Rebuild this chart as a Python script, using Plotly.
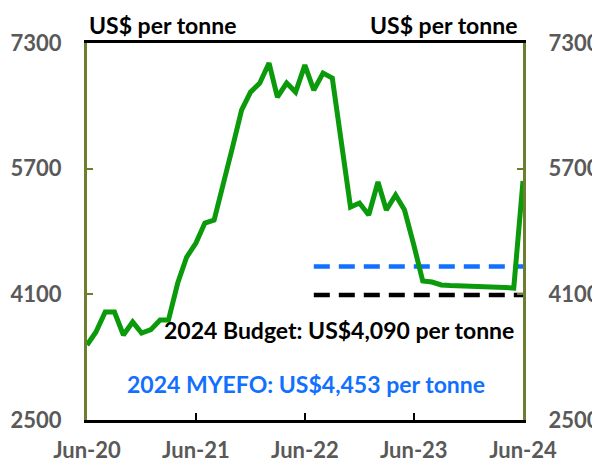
import plotly.graph_objects as go
import pandas as pd

months = pd.date_range("2020-06-01", "2024-06-01", freq="MS")
price = [3455, 3620, 3875, 3875, 3582, 3748, 3607, 3650, 3773, 3773,
         4244, 4575, 4753, 5008, 5046, 5492, 5963, 6446, 6675, 6790,
         7045, 6612, 6790, 6675, 7019, 6700, 6917, 6854, 6064, 5211,
         5262, 5110, 5530, 5173, 5364, 5173, 4729, 4270, 4257, 4219,
         4212, 4205, 4200, 4197, 4193, 4190, 4186, 4180, 5542]

assump_x = ["2022-07-01", "2024-06-01"]
budget = [4090, 4090]
myefo = [4453, 4453]

tick_vals = ["2020-06-01", "2021-06-01", "2022-06-01", "2023-06-01", "2024-06-01"]
tick_text = ["Jun-20", "Jun-21", "Jun-22", "Jun-23", "Jun-24"]
y_ticks = [2500, 4100, 5700, 7300]

GREEN = "#0b9a0b"
BLUE = "#1170ff"
OLIVE = "#6b7f2e"
GRAY = "#595959"
FONT = "Lato"

fig = go.Figure()
fig.add_trace(go.Scatter(x=assump_x, y=myefo, mode="lines",
                         line=dict(color=BLUE, width=4.5, dash="16px,9px"),
                         hoverinfo="skip", showlegend=False))
fig.add_trace(go.Scatter(x=assump_x, y=budget, mode="lines",
                         line=dict(color="black", width=4.5, dash="16px,9px"),
                         hoverinfo="skip", showlegend=False))
fig.add_trace(go.Scatter(x=months, y=price, mode="lines",
                         line=dict(color=GREEN, width=5),
                         showlegend=False))
fig.add_trace(go.Scatter(x=months, y=price, mode="lines", yaxis="y2",
                         line=dict(width=0), opacity=0,
                         hoverinfo="skip", showlegend=False))

fig.update_layout(
    width=592, height=454,
    margin=dict(l=79, r=77, t=35, b=42, autoexpand=False),
    paper_bgcolor="white", plot_bgcolor="white",
    font=dict(family=FONT, size=20, color="black"),
    xaxis=dict(
        range=["2020-06-01", "2024-06-01"],
        tickvals=tick_vals, ticktext=tick_text, automargin=False,
        tickfont=dict(family=FONT, size=22, color=GRAY, weight="bold"),
        showline=True, linecolor="black", linewidth=3, mirror=True,
        ticks="inside", ticklen=7, tickwidth=2, tickcolor="black",
        ticklabelstandoff=9,
        showgrid=False, zeroline=False,
    ),
    yaxis=dict(
        range=[2500, 7300], tickvals=y_ticks, automargin=False,
        tickfont=dict(family=FONT, size=22, color=GRAY, weight="bold"),
        showline=True, linecolor=OLIVE, linewidth=3,
        ticks="inside", ticklen=6, tickwidth=2, tickcolor=OLIVE,
        ticklabelstandoff=18,
        showgrid=False, zeroline=False,
    ),
    yaxis2=dict(
        range=[2500, 7300], tickvals=y_ticks, overlaying="y", side="right",
        automargin=False,
        tickfont=dict(family=FONT, size=22, color=GRAY, weight="bold"),
        showline=True, linecolor=OLIVE, linewidth=3,
        ticks="inside", ticklen=6, tickwidth=2, tickcolor=OLIVE,
        ticklabelstandoff=18,
        showgrid=False, zeroline=False,
    ),
    annotations=[
        dict(text="US$ per tonne", xref="paper", yref="paper", x=0, y=1,
             xanchor="left", yanchor="bottom", yshift=2, showarrow=False,
             font=dict(family=FONT, size=23, color="black", weight="bold")),
        dict(text="US$ per tonne", xref="paper", yref="paper", x=0.993, y=1,
             xanchor="right", yanchor="bottom", yshift=2, showarrow=False,
             font=dict(family=FONT, size=23, color="black", weight="bold")),
        dict(text="2024 Budget: US$4,090 per tonne", xref="paper", yref="paper",
             x=0.578, y=0.239, xanchor="center", yanchor="middle", showarrow=False,
             font=dict(family=FONT, size=23, color="black", weight="bold")),
        dict(text="2024 MYEFO: US$4,453 per tonne", xref="paper", yref="paper",
             x=0.502, y=0.0955, xanchor="center", yanchor="middle", showarrow=False,
             font=dict(family=FONT, size=23, color=BLUE, weight="bold")),
    ],
)

fig.write_html("out.html")
